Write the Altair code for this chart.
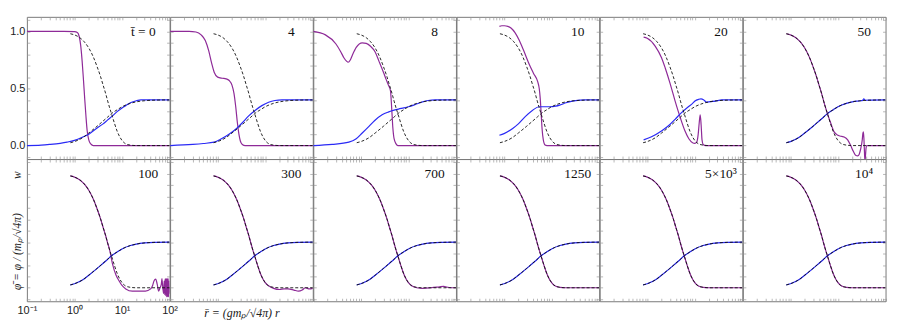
import altair as alt
import pandas as pd

# ---------------- data ----------------
PANEL_LABELS = ["t\u0304 = 0", "4", "8", "10", "20", "50",
                "100", "300", "700", "1250", "5\u00d710\u00b3", "10\u2074"]

# static (dashed) solution
STATIC_W_R = [0.82, 1.0, 1.3, 1.6, 2.0, 2.5, 3.0, 3.5, 4.0, 4.5, 5.0, 5.5, 6.0, 7.0, 8.0, 9.0, 10, 12, 15, 20, 100]
STATIC_W_V = [0.98, 0.97, 0.945, 0.91, 0.855, 0.775, 0.69, 0.61, 0.53, 0.46, 0.39, 0.33, 0.28, 0.19, 0.12, 0.075, 0.045, 0.015, 0.004, 0.0, 0.0]
STATIC_PHI_R = [0.82, 1.0, 1.5, 2.0, 3.0, 4.0, 5.0, 6.0, 8.0, 10, 15, 20, 30, 50, 100]
STATIC_PHI_V = [0.025, 0.035, 0.07, 0.11, 0.17, 0.215, 0.25, 0.28, 0.315, 0.34, 0.37, 0.383, 0.393, 0.398, 0.4]

W_T0_R = [0.1, 0.6, 1.0, 1.15, 1.25, 1.35, 1.45, 1.55, 1.65, 1.75, 1.85, 2.0, 2.2, 2.5, 100]
W_T0_V = [1.0, 1.0, 0.998, 0.99, 0.96, 0.88, 0.74, 0.57, 0.40, 0.25, 0.13, 0.05, 0.015, 0.0, 0.0]
PHI_T0_R = [0.1, 0.2, 0.3, 0.5, 0.7, 1.0, 1.5, 2.0, 3.0, 4.0, 5.0, 6.3, 8.0, 10, 12, 15, 20, 25, 30, 100]
PHI_T0_V = [0.0, 0.004, 0.01, 0.02, 0.03, 0.045, 0.075, 0.1, 0.155, 0.19, 0.225, 0.26, 0.3, 0.33, 0.35, 0.375, 0.393, 0.4, 0.4, 0.4]

W_T4_R = [0.1, 0.25, 0.35, 0.45, 0.55, 0.65, 0.75, 0.85, 1.0, 1.25, 1.5, 1.75, 2.0, 2.2, 2.4, 2.6, 2.8, 3.0, 3.3, 3.8, 100]
W_T4_V = [1.0, 1.0, 0.995, 0.97, 0.92, 0.83, 0.72, 0.64, 0.60, 0.59, 0.585, 0.57, 0.53, 0.46, 0.34, 0.2, 0.1, 0.04, 0.01, 0.0, 0.0]
PHI_T4_R = [0.1, 0.3, 0.5, 0.84, 1.2, 1.73, 2.5, 3.3, 4.5, 6.2, 8.5, 11.8, 16, 22.5, 100]
PHI_T4_V = [0.0, 0.01, 0.018, 0.03, 0.06, 0.10, 0.15, 0.2, 0.26, 0.31, 0.35, 0.38, 0.395, 0.4, 0.4]

W_T8_R = [0.1, 0.18, 0.3, 0.38, 0.44, 0.5, 0.54, 0.6, 0.66, 0.8, 1.07, 1.3, 1.6, 2.0, 2.4, 3.0, 3.4, 3.8, 4.2, 4.45, 4.7, 5.0, 5.5, 6.0, 100]
W_T8_V = [1.0, 0.97, 0.89, 0.82, 0.77, 0.74, 0.73, 0.75, 0.79, 0.86, 0.90, 0.895, 0.87, 0.82, 0.74, 0.64, 0.58, 0.53, 0.48, 0.33, 0.16, 0.06, 0.015, 0.0, 0.0]
PHI_T8_R = [0.1, 0.25, 0.56, 0.8, 1.07, 1.5, 1.96, 2.8, 3.86, 5.0, 6.2, 8.0, 10, 14, 19, 26, 36.4, 100]
PHI_T8_V = [0.0, 0.01, 0.03, 0.06, 0.11, 0.17, 0.22, 0.27, 0.295, 0.31, 0.32, 0.33, 0.34, 0.36, 0.38, 0.395, 0.4, 0.4]

W_T10_R = [0.8, 0.9, 1.02, 1.2, 1.4, 1.7, 2.1, 2.6, 3.4, 4.2, 5.1, 5.5, 5.75, 6.0, 6.3, 6.7, 7.3, 8.0, 100]
W_T10_V = [1.045, 1.05, 1.05, 1.045, 1.03, 0.99, 0.92, 0.83, 0.71, 0.63, 0.56, 0.5, 0.42, 0.3, 0.15, 0.05, 0.005, 0.0, 0.0]
PHI_T10_R = [0.8, 1.0, 1.52, 2.0, 2.9, 4.0, 5.5, 7.0, 9.0, 12.2, 16, 20, 27.3, 40, 52, 100]
PHI_T10_V = [0.09, 0.105, 0.15, 0.19, 0.26, 0.31, 0.34, 0.34, 0.34, 0.345, 0.36, 0.375, 0.39, 0.398, 0.4, 0.4]

W_T20_R = [0.84, 1.0, 1.48, 2.0, 2.39, 3.0, 3.86, 5.0, 6.2, 7.5, 9.0, 10.0, 11.0, 11.8, 12.4, 13.0, 13.6, 14.2, 15.0, 17.0, 100]
W_T20_V = [0.95, 0.94, 0.87, 0.77, 0.68, 0.55, 0.39, 0.24, 0.13, 0.06, 0.025, 0.02, 0.03, 0.1, 0.2, 0.27, 0.18, 0.05, 0.01, 0.0, 0.0]
PHI_T20_R = [0.84, 1.2, 2.03, 3.0, 3.86, 5.0, 7.3, 9.0, 10.1, 12, 13.5, 15.5, 17.7, 21, 26.7, 37, 100]
PHI_T20_V = [0.05, 0.075, 0.13, 0.185, 0.23, 0.28, 0.34, 0.37, 0.39, 0.405, 0.41, 0.40, 0.38, 0.385, 0.39, 0.4, 0.4]

W_T50_R = [0.82, 1.0, 1.3, 1.6, 2.0, 2.5, 3.0, 3.5, 4.0, 4.5, 5.0, 5.5, 6.0, 7.0, 8.3, 10, 12, 13.5, 16, 18.5, 21, 23.5, 26, 28, 30, 32.4, 33.5, 34.3, 35.2, 36, 37, 38, 39, 40, 100]
W_T50_V = [0.98, 0.97, 0.945, 0.91, 0.855, 0.775, 0.69, 0.61, 0.53, 0.46, 0.39, 0.33, 0.28, 0.2, 0.12, 0.09, 0.08, 0.075, 0.05, 0.0, -0.05, -0.085, -0.09, -0.075, -0.03, 0.05, 0.11, 0.12, 0.05, -0.05, -0.14, -0.08, -0.02, 0.0, 0.0]
PHI_T50_R = [0.82, 1.0, 1.5, 2.0, 3.0, 4.0, 5.0, 6.0, 8.0, 10, 15, 20, 30, 33, 35, 37, 50, 100]
PHI_T50_V = [0.025, 0.035, 0.07, 0.11, 0.17, 0.215, 0.25, 0.28, 0.315, 0.34, 0.37, 0.383, 0.393, 0.396, 0.41, 0.397, 0.398, 0.4]

W_T100_R = [0.82, 1.0, 1.3, 1.6, 2.0, 2.5, 3.0, 3.5, 4.0, 4.5, 5.0, 5.5, 6.3, 7.5, 8.7, 10, 12, 16.5, 25, 31, 40, 44, 47, 51, 55, 59, 63, 67, 69, 72, 75, 77, 79, 81, 83, 85, 87, 89, 91, 93, 95, 97, 99, 100]
W_T100_V = [0.98, 0.97, 0.945, 0.91, 0.855, 0.775, 0.69, 0.61, 0.53, 0.46, 0.39, 0.33, 0.21, 0.11, 0.06, 0.02, -0.01, -0.03, -0.03, -0.03, -0.01, 0.02, 0.06, 0.075, 0.03, -0.03, 0.0, 0.03, 0.08, 0.0, -0.05, 0.06, -0.06, 0.08, -0.07, 0.08, -0.08, 0.08, -0.08, 0.08, -0.08, 0.06, -0.05, 0.0]

W_T300_R = [0.82, 1.0, 1.3, 1.6, 2.0, 2.5, 3.0, 3.5, 4.0, 4.5, 5.0, 5.5, 6.0, 7.0, 8.0, 9.0, 10, 12, 15, 20, 25, 30, 40, 50, 60, 70, 85, 100]
W_T300_V = [0.98, 0.97, 0.945, 0.91, 0.855, 0.775, 0.69, 0.61, 0.53, 0.46, 0.39, 0.33, 0.28, 0.19, 0.12, 0.075, 0.045, 0.015, -0.005, -0.015, -0.01, -0.01, -0.02, -0.03, -0.02, 0.0, -0.01, -0.005]

W_T700_R = [0.82, 1.0, 1.3, 1.6, 2.0, 2.5, 3.0, 3.5, 4.0, 4.5, 5.0, 5.5, 6.0, 7.0, 8.0, 9.0, 10, 12, 15, 20, 30, 45, 55, 65, 80, 100]
W_T700_V = [0.98, 0.97, 0.945, 0.91, 0.855, 0.775, 0.69, 0.61, 0.53, 0.46, 0.39, 0.33, 0.28, 0.19, 0.12, 0.075, 0.045, 0.015, 0.0, -0.005, 0.0, 0.008, 0.012, 0.005, 0.0, 0.0]

PANEL_CURVES = [
    (W_T0_R, W_T0_V, PHI_T0_R, PHI_T0_V),
    (W_T4_R, W_T4_V, PHI_T4_R, PHI_T4_V),
    (W_T8_R, W_T8_V, PHI_T8_R, PHI_T8_V),
    (W_T10_R, W_T10_V, PHI_T10_R, PHI_T10_V),
    (W_T20_R, W_T20_V, PHI_T20_R, PHI_T20_V),
    (W_T50_R, W_T50_V, PHI_T50_R, PHI_T50_V),
    (W_T100_R, W_T100_V, STATIC_PHI_R, STATIC_PHI_V),
    (W_T300_R, W_T300_V, STATIC_PHI_R, STATIC_PHI_V),
    (W_T700_R, W_T700_V, STATIC_PHI_R, STATIC_PHI_V),
    (STATIC_W_R, STATIC_W_V, STATIC_PHI_R, STATIC_PHI_V),
    (STATIC_W_R, STATIC_W_V, STATIC_PHI_R, STATIC_PHI_V),
    (STATIC_W_R, STATIC_W_V, STATIC_PHI_R, STATIC_PHI_V),
]

X_MAJOR = [0.1, 1, 10, 100]
X_MAJOR_LABELS = ["10\u207b\u00b9", "10\u2070", "10\u00b9", "10\u00b2"]
X_MINOR = [0.2, 0.3, 0.4, 0.5, 0.6, 0.7, 0.8, 0.9, 2, 3, 4, 5, 6, 7, 8, 9, 20, 30, 40, 50, 60, 70, 80, 90]
Y_TICKS = [-0.1, 0.0, 0.1, 0.2, 0.3, 0.4, 0.5, 0.6, 0.7, 0.8, 0.9, 1.0, 1.1]
Y_LABEL_VALUES = [0.0, 0.5, 1.0]
Y_LABEL_TEXT = ["0.0", "0.5", "1.0"]

X_TITLE = "r\u0304 = (gm\u209a/\u221a4\u03c0) r"
Y_TITLE = "\u03c6\u0304 = \u03c6 / (m\u209a/\u221a4\u03c0)" + "\u00a0" * 12 + "w"

# ---------------- styling ----------------
PURPLE = "#8e2a98"
BLUE = "#2a2af5"
FRAME = "#7a7a7a"
TICK = "#9a9a9a"
PW, PH = 143.5, 143

XSCALE = alt.Scale(type="log", domain=[0.1, 100], nice=False)
YSCALE = alt.Scale(domain=[-0.118, 1.128], nice=False, zero=False)


def expr_from(values, texts):
    parts = [f"datum.value == {v} ? '{t}'" for v, t in zip(values, texts)]
    return " : ".join(parts) + " : ''"


X_LABEL_EXPR = expr_from(X_MAJOR, X_MAJOR_LABELS)
Y_LABEL_EXPR = expr_from(Y_LABEL_VALUES, Y_LABEL_TEXT)


def axis(orient, values, labels=False, label_expr="", title=""):
    kw = dict(orient=orient, values=values, tickSize=3, offset=-3, domain=False,
              grid=False, labelFlush=False, labelOverlap=False, title=title, labels=labels)
    if labels:
        kw.update(labelExpr=label_expr, labelPadding=3 if orient in ("bottom", "top") else 2)
    if title:
        kw.update(titleFont="Liberation Serif", titleFontStyle="italic", titleFontWeight="normal",
                  titleFontSize=12 if orient == "bottom" else 11.5,
                  titlePadding=6 if orient == "bottom" else 4)
    return alt.Axis(**kw)


def make_df(pairs):
    rows = []
    for series, rs, vs in pairs:
        for i, (r, v) in enumerate(zip(rs, vs)):
            rows.append({"series": series, "r": r, "v": v, "i": i})
    return pd.DataFrame(rows)


panels = []
for k, (wr, wv, pr, pv) in enumerate(PANEL_CURVES):
    df = make_df([("w", wr, wv), ("phi", pr, pv),
                  ("ws", STATIC_W_R, STATIC_W_V), ("phis", STATIC_PHI_R, STATIC_PHI_V)])
    row, col = divmod(k, 6)
    xt = axis("bottom", X_MAJOR + X_MINOR,
              labels=(row == 1 and col == 0), label_expr=X_LABEL_EXPR,
              title=X_TITLE if (row == 1 and col == 1) else "")
    yt = axis("left", Y_TICKS,
              labels=(row == 0 and col == 0), label_expr=Y_LABEL_EXPR,
              title=Y_TITLE if (row == 1 and col == 0) else "")
    base = alt.Chart(df).encode(
        x=alt.X("r:Q", scale=XSCALE, axis=xt),
        y=alt.Y("v:Q", scale=YSCALE, axis=yt),
        order="i:Q",
    )
    purple = base.transform_filter(alt.datum.series == "w").mark_line(
        color=PURPLE, strokeWidth=1.2, interpolate="monotone", clip=True)
    blue = base.transform_filter(alt.datum.series == "phi").mark_line(
        color=BLUE, strokeWidth=1.2, interpolate="monotone", clip=True)
    dashed = base.transform_filter(
        (alt.datum.series == "ws") | (alt.datum.series == "phis")
    ).mark_line(color="#111111", strokeWidth=0.9, strokeDash=[3, 2],
                interpolate="monotone", clip=True).encode(detail="series:N")
    label = alt.Chart(pd.DataFrame({"label": [PANEL_LABELS[k]]})).mark_text(
        font="Liberation Serif", fontSize=13.5, align="center", baseline="middle", color="#111111"
    ).encode(x=alt.value(117 if k == 0 else 122), y=alt.value(15.5), text="label:N")

    frame = alt.Chart(make_df([("phis", STATIC_PHI_R, STATIC_PHI_V)])).mark_line(opacity=0).encode(
        x=alt.X("r:Q", scale=XSCALE, axis=axis("top", X_MAJOR + X_MINOR)),
        y=alt.Y("v:Q", scale=YSCALE, axis=axis("right", Y_TICKS)),
    )
    panel = alt.layer(alt.layer(purple, blue, dashed, label), frame).resolve_axis(
        x="independent", y="independent").properties(width=PW, height=PH)
    panels.append(panel)

chart = alt.concat(*panels, columns=6, spacing=0, bounds="flush").properties(
    padding={"left": 1, "top": 4, "right": 5, "bottom": 5},
    background="white",
).configure_view(stroke=FRAME, strokeWidth=1).configure_axis(
    tickColor=TICK, tickWidth=0.7,
    labelFont="Liberation Sans", labelFontSize=11, labelColor="#222222",
    titleColor="#222222",
)

chart.save("out.html", embed_options={"renderer": "svg", "actions": False})
